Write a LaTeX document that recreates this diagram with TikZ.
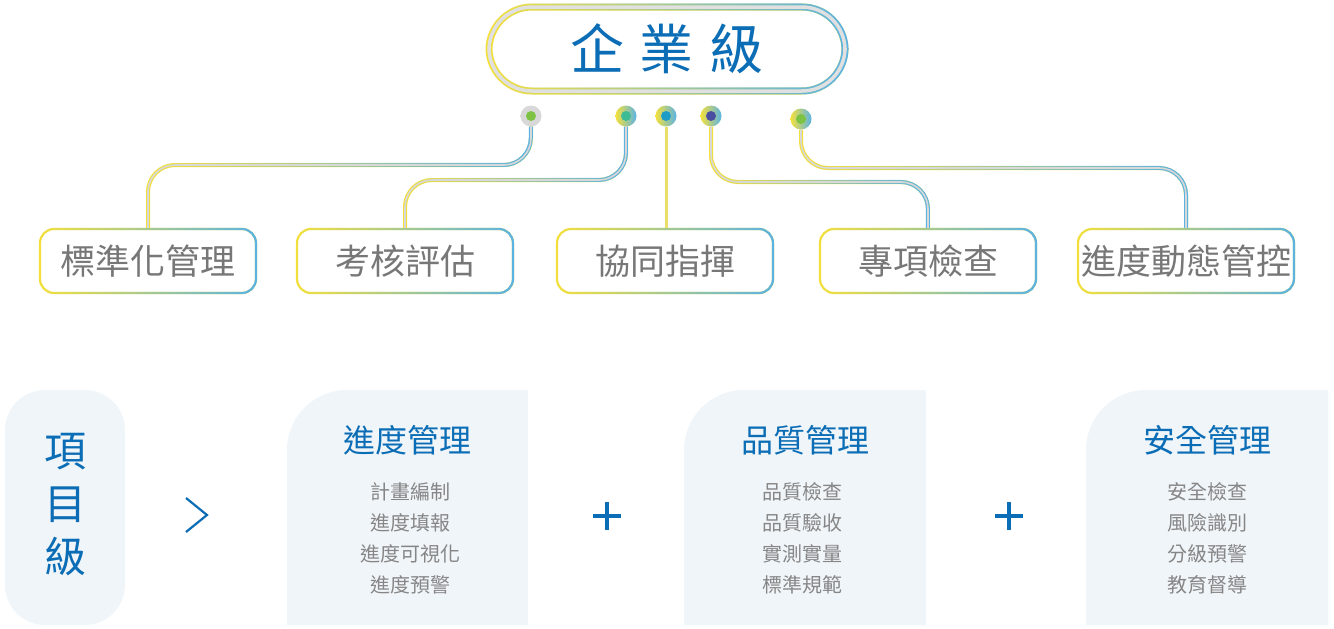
\documentclass[tikz,border=0pt]{standalone}
\usepackage{fontspec}
\newfontfamily\cjk{Noto Sans CJK TC}
\usetikzlibrary{fadings}
\definecolor{tblue}{HTML}{0B6DB5}
\definecolor{lyellow}{HTML}{F4E03C}
\definecolor{lblue}{HTML}{5AB3E4}
\definecolor{lgray}{HTML}{D8D8D8}
\definecolor{tgray}{HTML}{777777}
\definecolor{igray}{HTML}{868686}
\definecolor{panel}{HTML}{F0F5F9}
\definecolor{dotgreen}{HTML}{7DC242}
\definecolor{dotteal}{HTML}{3DBB95}
\definecolor{dotcyan}{HTML}{1E9CC8}
\definecolor{dotpurple}{HTML}{4A4E9E}
\tikzfading[name=toright, left color=transparent!100, middle color=transparent!45, right color=transparent!0]
\tikzset{
  pill/.style={draw=lyellow, line width=7pt, fill=white, rounded corners=43pt, minimum width=356pt, minimum height=84pt, inner sep=0pt,
    postaction={draw=lblue, path fading=toright}, postaction={draw=lgray!80, line width=3.5pt},
    font=\cjk\fontsize{54}{54}\selectfont, text=tblue},
  card/.style={draw=lyellow, line width=2.2pt, fill=white, rounded corners=14pt, minimum width=216pt, minimum height=64pt, inner sep=0pt,
    postaction={draw=lblue, path fading=toright}, font=\cjk\fontsize{35}{35}\selectfont, text=tgray},
  ring/.style={circle, minimum size=21pt, inner sep=0pt, left color=lyellow, right color=lblue},
  link/.style={draw=lyellow, line width=4pt, rounded corners=27pt,
    postaction={draw=lblue, path fading=toright}, postaction={draw=lgray, line width=1.6pt}},
  head/.style={font=\cjk\fontsize{32}{32}\selectfont, text=tblue},
  items/.style={font=\cjk\fontsize{20}{31}\selectfont, text=igray, align=center},
  sign/.style={draw=tblue, line width=3.5pt}
}
\begin{document}
\begin{tikzpicture}[x=1pt, y=-1pt]
    \useasboundingbox (0,0) rectangle (1334,629);

    \node[pill] (top) at (667,49) {企\hspace{16pt}業\hspace{16pt}級};

    \node[card] (b1) at (148,261) {標準化管理};
    \node[card] (b2) at (405,261) {考核評估};
    \node[card] (b3) at (665,261) {協同指揮};
    \node[card] (b4) at (928,261) {專項檢查};
    \node[card] (b5) at (1186,261) {進度動態管控};

    \node[ring, left color=lgray, right color=lgray] (d1) at (531,116) {};
    \node[ring] (d2) at (626,116) {};
    \node[ring] (d3) at (666,116) {};
    \node[ring] (d4) at (711,116) {};
    \node[ring] (d5) at (801,119) {};

    \draw[link] (d1.south) |- (b1.north |- 0,165) -- (b1.north);
    \draw[link] (d2.south) |- (b2.north |- 0,180) -- (b2.north);
    \draw[draw=lyellow!70!lgray, line width=3pt] (d3.south) -- (d3.south |- b3.north);
    \draw[link] (d4.south) |- (b4.north |- 0,182) -- (b4.north);
    \draw[link] (d5.south) |- (b5.north |- 0,168) -- (b5.north);

    \fill[dotgreen] (d1) circle (5pt);
    \fill[dotteal] (d2) circle (5pt);
    \fill[dotcyan] (d3) circle (5pt);
    \fill[dotpurple] (d4) circle (5pt);
    \fill[dotgreen] (d5) circle (5pt);

    \fill[panel, rounded corners=40pt] (5,390) rectangle (125,625);
    \node[font=\cjk\fontsize{42}{53}\selectfont, text=tblue, align=center] (proj) at (65,505) {項\\目\\級};
    \draw[draw=tblue, line width=2.2pt] (186,498) -- (207,515) -- (186,532);

    \fill[panel] (287,625) [rounded corners=60pt] -- (287,390) [sharp corners] -- (528,390) -- (528,625) -- cycle;
    \node[head] (h1) at (407,440) {進度管理};
    \node[items] (i1) at (410,538) {計畫編制\\進度填報\\進度可視化\\進度預警};

    \draw[sign] (593,516) -- (621,516) (607,502) -- (607,530);

    \fill[panel] (684,625) [rounded corners=60pt] -- (684,390) [sharp corners] -- (926,390) -- (926,625) -- cycle;
    \node[head] (h2) at (805,440) {品質管理};
    \node[items] (i2) at (802,538) {品質檢查\\品質驗收\\實測實量\\標準規範};

    \draw[sign] (995,516) -- (1023,516) (1009,502) -- (1009,530);

    \fill[panel] (1086,625) [rounded corners=60pt] -- (1086,390) [sharp corners] -- (1328,390) -- (1328,625) -- cycle;
    \node[head] (h3) at (1207,440) {安全管理};
    \node[items] (i3) at (1207,538) {安全檢查\\風險識別\\分級預警\\教育督導};
\end{tikzpicture}
\end{document}
